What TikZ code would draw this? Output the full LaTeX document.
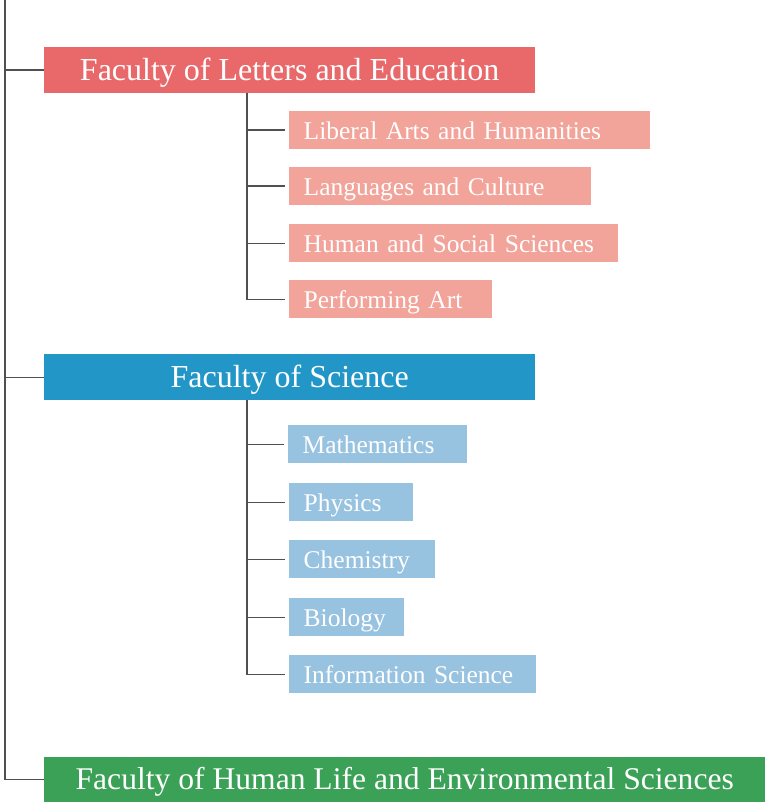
\documentclass[tikz,border=0pt]{standalone}
\usepackage{fontspec}
\setmainfont{Liberation Serif}
\definecolor{redA}{HTML}{E9686A}
\definecolor{pinkA}{HTML}{F2A39A}
\definecolor{blueA}{HTML}{2396C8}
\definecolor{lblue}{HTML}{97C2E0}
\definecolor{greenA}{HTML}{3BA157}
\definecolor{lineC}{HTML}{505050}
\begin{document}
\begin{tikzpicture}[x=1pt,y=-1pt,
  fac/.style={rectangle, inner sep=0pt, anchor=north west, minimum height=46pt,
    text=white, font=\fontsize{32}{32}\selectfont, text height=22pt, text depth=2pt},
  sub/.style={rectangle, inner xsep=14.5pt, inner ysep=0pt, anchor=north west,
    minimum height=38pt, text=white, font=\fontsize{25.5}{26}\selectfont,
    text height=20pt, text depth=2pt, align=left},
  conn/.style={draw=lineC, line width=1.4pt}]
\useasboundingbox (0,0) rectangle (765,802);
% faculties
\node[fac, fill=redA, minimum width=491pt] (f1) at (44,47) {Faculty of Letters and Education};
\node[fac, fill=blueA, minimum width=491pt] (f2) at (44,354) {Faculty of Science};
\node[fac, fill=greenA, minimum width=721pt, minimum height=45pt, font=\fontsize{31.6}{32}\selectfont] (f3) at (44,757) {Faculty of Human Life and Environmental Sciences};
% letters departments
\node[sub, fill=pinkA, text width=332pt] (l1) at (289,111) {Liberal Arts and Humanities};
\node[sub, fill=pinkA, text width=273pt] (l2) at (289,167) {Languages and Culture};
\node[sub, fill=pinkA, text width=300pt] (l3) at (289,224) {Human and Social Sciences};
\node[sub, fill=pinkA, text width=174pt] (l4) at (289,280) {Performing Art};
% science departments
\node[sub, fill=lblue, text width=150pt] (s1) at (288,425) {Mathematics};
\node[sub, fill=lblue, text width=95pt] (s2) at (289,483) {Physics};
\node[sub, fill=lblue, text width=117pt] (s3) at (289,540) {Chemistry};
\node[sub, fill=lblue, text width=86pt] (s4) at (289,598) {Biology};
\node[sub, fill=lblue, text width=218pt] (s5) at (289,655) {Information Science};
% connectors
\coordinate (top) at (5,0);
\coordinate (bl) at (247,93);
\coordinate (bs) at (247,400);
\draw[conn] (top) |- (f3.west);
\draw[conn] (f1.west) -- (f1.west -| top);
\draw[conn] (f2.west) -- (f2.west -| top);
\draw[conn] (bl) |- ([xshift=-4pt]l4.west);
\foreach \n in {l1,l2,l3} \draw[conn] (\n.west -| bl) -- ([xshift=-4pt]\n.west);
\draw[conn] (bs) |- ([xshift=-4pt]s5.west);
\foreach \n in {s1,s2,s3,s4} \draw[conn] (\n.west -| bs) -- ([xshift=-4pt]\n.west);
\end{tikzpicture}
\end{document}
